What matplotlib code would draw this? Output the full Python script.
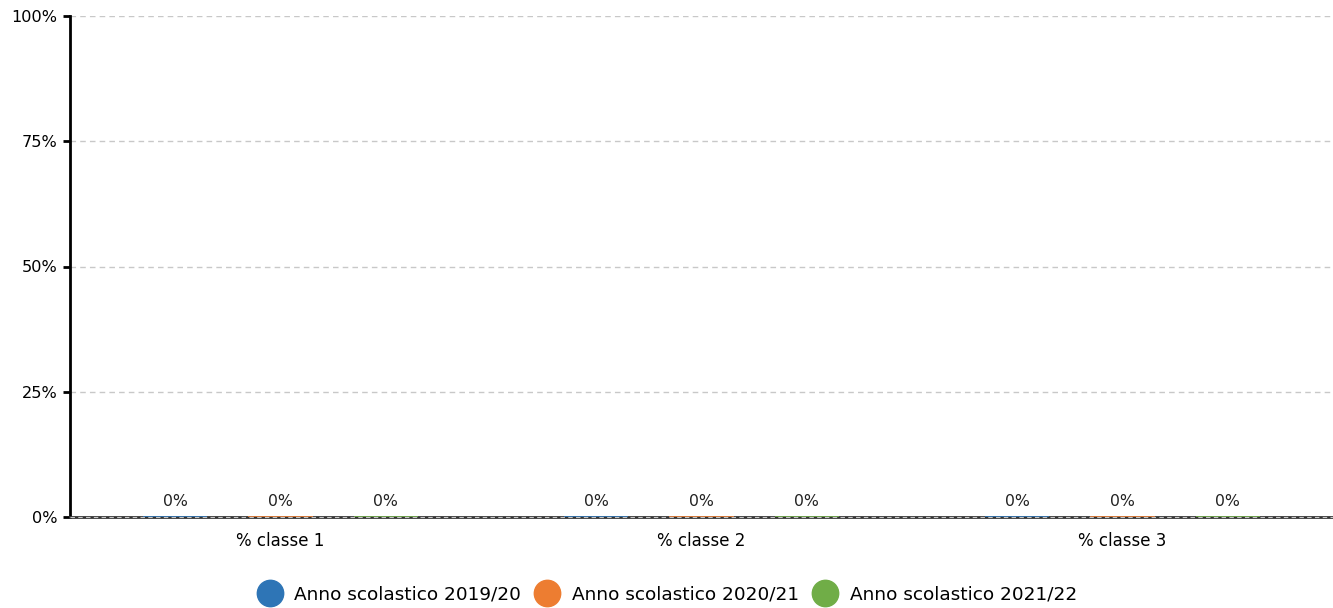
import numpy as np
import matplotlib
matplotlib.use("Agg")
import matplotlib.pyplot as plt
from matplotlib.lines import Line2D

categories = ["% classe 1", "% classe 2", "% classe 3"]
series_names = ["Anno scolastico 2019/20", "Anno scolastico 2020/21", "Anno scolastico 2021/22"]
values_2019 = [0, 0, 0]
values_2020 = [0, 0, 0]
values_2021 = [0, 0, 0]
y_ticks = [0, 25, 50, 75, 100]

colors = ["#2e75b6", "#ed7d31", "#70ad47"]
all_values = [values_2019, values_2020, values_2021]

plt.rcParams['font.family'] = ['DejaVu Sans']

fig = plt.figure(figsize=(13.33, 6.08), dpi=100)
ax = fig.add_axes([70 / 1333, 1 - 517 / 608, 1263 / 1333, 501 / 608])

x = np.arange(len(categories))
offsets = [-0.25, 0, 0.25]
width = 0.153

for vals, off, col in zip(all_values, offsets, colors):
    bars = ax.bar(x + off, vals, width, color=col, edgecolor=col, linewidth=1.2, zorder=3)
    for b, v in zip(bars, vals):
        ax.text(b.get_x() + b.get_width() / 2, v + 1.6, f"{v}%", ha="center", va="bottom",
                fontsize=11.3, color="#222222")

ax.set_xlim(-0.5, len(categories) - 0.5)
ax.set_ylim(0, 100)
ax.set_yticks(y_ticks)
ax.set_yticklabels([f"{t}%" for t in y_ticks], fontsize=11.6)
ax.set_xticks(x)
ax.set_xticklabels(categories, fontsize=12)
ax.tick_params(axis="x", length=0, pad=11)
ax.tick_params(axis="y", length=5, width=2, color="black", pad=4)

ax.grid(axis="y", linestyle=(0, (4, 3)), color="#c8c8c8", linewidth=1, zorder=4)
for s in ["top", "right"]:
    ax.spines[s].set_visible(False)
ax.spines["left"].set_linewidth(2)
ax.spines["left"].set_color("black")
ax.spines["bottom"].set_linewidth(2)
ax.spines["bottom"].set_color("#333333")
# dashed grid line drawn over the baseline, as in the original
ax.axhline(0, linestyle=(0, (4, 3)), color="#c8c8c8", linewidth=0.8, zorder=6, clip_on=False)

handles = [Line2D([0], [0], marker="o", linestyle="", markersize=19, markerfacecolor=c,
                  markeredgecolor=c) for c in colors]
fig.legend(handles, series_names, loc="lower center", bbox_to_anchor=(0.5, -0.02), ncol=3,
           frameon=False, fontsize=13.3, handletextpad=0.6, columnspacing=0.65, handlelength=1.5)

fig.savefig("out.png", dpi=100)
